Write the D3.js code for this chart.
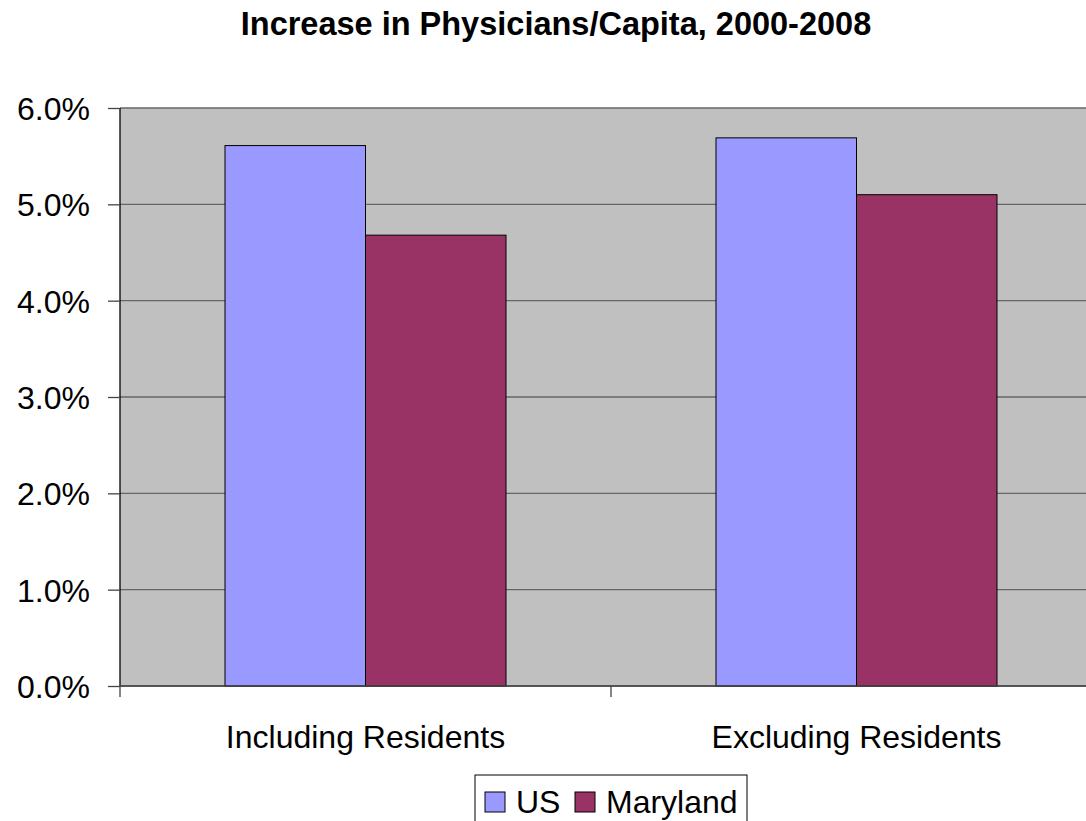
<!DOCTYPE html>
<html>
<head>
<meta charset="utf-8">
<script src="https://cdn.jsdelivr.net/npm/d3@7"></script>
<style>
  body { margin: 0; background: #fff; }
  text { font-family: "Liberation Sans", Arial, sans-serif; }
</style>
</head>
<body>
<div id="Area"></div>
<script>
// data
var categories = ["Including Residents", "Excluding Residents"];
var seriesNames = ["US", "Maryland"];
var usValues = [5.61, 5.69];
var marylandValues = [4.68, 5.10];
var yTicks = [0, 1, 2, 3, 4, 5, 6];

var colors = { "US": "#9999FF", "Maryland": "#993366" };

var margin = {top: 108, left: 120},
    width = 982,
    height = 578;

var svg = d3.select("#Area")
  .append("svg")
    .attr("width", 1086)
    .attr("height", 821);

var rows = categories.map(function(c, i) {
  return { cat: c, values: [ {name: "US", v: usValues[i]}, {name: "Maryland", v: marylandValues[i]} ] };
});

// title
svg.append("text")
  .attr("x", 556)
  .attr("y", 35)
  .attr("text-anchor", "middle")
  .style("font-weight", "bold")
  .style("font-size", "32.5px")
  .text("Increase in Physicians/Capita, 2000-2008");

var g = svg.append("g")
  .attr("transform", "translate(" + margin.left + "," + margin.top + ")");

var x0 = d3.scaleBand()
  .domain(categories)
  .range([0, width])
  .padding(0);

var x1 = d3.scaleBand()
  .domain(seriesNames)
  .range([105, 386]);

var y = d3.scaleLinear()
  .domain([0, 6])
  .range([height, 0]);

// plot background
g.append("rect")
  .attr("width", width)
  .attr("height", height)
  .attr("fill", "#C0C0C0");

// gridlines
g.selectAll(".grid")
  .data(yTicks)
  .enter()
  .append("line")
  .attr("x1", 0)
  .attr("x2", width)
  .attr("y1", function(d) { return y(d); })
  .attr("y2", function(d) { return y(d); })
  .attr("stroke", "#666")
  .attr("stroke-width", 1.3);

// bars
var groups = g.selectAll(".cat")
  .data(rows)
  .enter()
  .append("g")
  .attr("transform", function(d) { return "translate(" + x0(d.cat) + ",0)"; });

groups.selectAll("rect")
  .data(function(d) { return d.values; })
  .enter()
  .append("rect")
  .attr("x", function(d) { return x1(d.name); })
  .attr("y", function(d) { return y(d.v); })
  .attr("width", x1.bandwidth())
  .attr("height", function(d) { return height - y(d.v); })
  .attr("fill", function(d) { return colors[d.name]; })
  .attr("stroke", "#000")
  .attr("stroke-width", 1);

// y axis
var yAxis = g.append("g")
  .call(d3.axisLeft(y).tickValues(yTicks).tickSize(12).tickPadding(18)
    .tickFormat(function(d) { return d3.format(".1f")(d) + "%"; }));
yAxis.select(".domain").attr("stroke", "#000").attr("stroke-width", 1.3).attr("d", "M0,0V" + height);
yAxis.selectAll(".tick line").attr("stroke", "#444").attr("stroke-width", 1.3);
yAxis.selectAll("text")
  .attr("fill", "#000")
  .style("font-size", "32px")
  .attr("dy", "0.36em");

// x axis
var xAxis = g.append("g")
  .attr("transform", "translate(0," + height + ")");
xAxis.append("line")
  .attr("x1", 0).attr("x2", width)
  .attr("stroke", "#444").attr("stroke-width", 1.5);
xAxis.selectAll(".xtick")
  .data([0, width / 2])
  .enter()
  .append("line")
  .attr("x1", function(d) { return d; })
  .attr("x2", function(d) { return d; })
  .attr("y1", 0).attr("y2", 11)
  .attr("stroke", "#444").attr("stroke-width", 1.3);
xAxis.selectAll(".xlabel")
  .data(categories)
  .enter()
  .append("text")
  .attr("x", function(d) { return x0(d) + x0.bandwidth() / 2; })
  .attr("y", 62)
  .attr("text-anchor", "middle")
  .style("font-size", "32px")
  .text(function(d) { return d; });

// legend
var legend = svg.append("g").attr("transform", "translate(475,775)");
legend.append("rect")
  .attr("width", 272)
  .attr("height", 50)
  .attr("fill", "#fff")
  .attr("stroke", "#000")
  .attr("stroke-width", 1);

var legendX = [10, 100];
var items = legend.selectAll(".item")
  .data(seriesNames)
  .enter()
  .append("g")
  .attr("transform", function(d, i) { return "translate(" + legendX[i] + ",0)"; });
items.append("rect")
  .attr("y", 17)
  .attr("width", 20)
  .attr("height", 20)
  .attr("fill", function(d) { return colors[d]; })
  .attr("stroke", "#000")
  .attr("stroke-width", 1);
items.append("text")
  .attr("x", 31)
  .attr("y", 38)
  .style("font-size", "32px")
  .text(function(d) { return d; });
</script>
</body>
</html>
